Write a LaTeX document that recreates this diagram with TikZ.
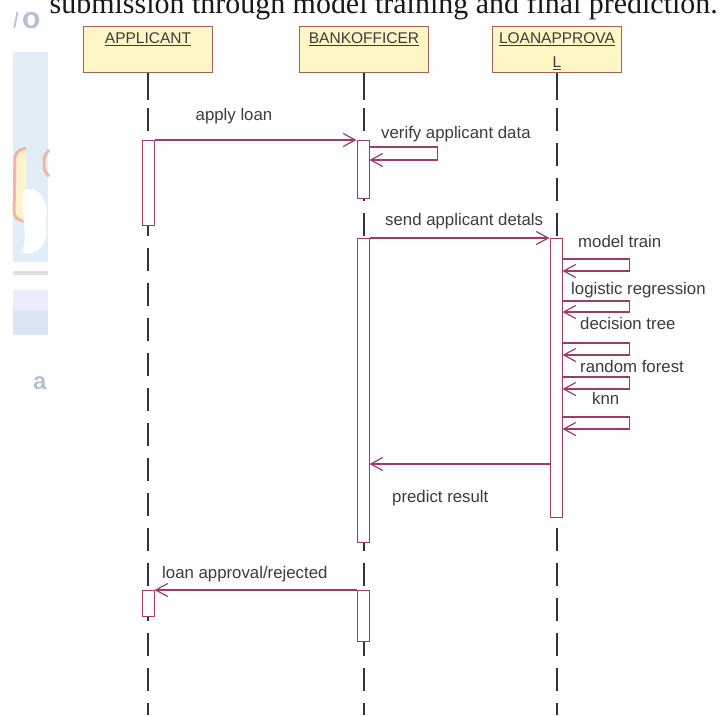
\documentclass[tikz,border=0pt]{standalone}
\usepackage{graphicx}
\usepackage{fontspec}
\setsansfont{Liberation Sans}
\newfontfamily\capfont{Liberation Serif}
\usetikzlibrary{arrows.meta}
\definecolor{msgc}{HTML}{9E3B6B}
\definecolor{boxb}{HTML}{A0605A}
\definecolor{boxf}{HTML}{FFF6C6}
\definecolor{txtc}{HTML}{3C3C3C}
\definecolor{wmtext}{HTML}{B4C0DA}
\definecolor{wmblue}{HTML}{E2EEF7}
\definecolor{wmband}{HTML}{E9EDF9}
\definecolor{wmband2}{HTML}{DCE5F2}
\definecolor{wmorange}{HTML}{F4B4A4}
\definecolor{wmyellow}{HTML}{FDF4CC}
\begin{document}
\begin{tikzpicture}[x=1pt,y=-1pt,
  head/.style={draw=boxb, fill=boxf, line width=1.3pt, minimum width=129pt, minimum height=46pt, inner sep=0pt, anchor=north},
  htxt/.style={font=\sffamily\fontsize{15.5}{18}\selectfont, text=txtc, inner sep=0pt, anchor=base},
  life/.style={line width=1.3pt, draw=black!80,
    dash pattern=on 27pt off 8pt on 23pt off 12pt on 23pt off 12pt on 23pt off 12pt on 23pt off 12pt on 23pt off 12pt on 23pt off 12pt on 23pt off 12pt on 23pt off 12pt on 23pt off 12pt on 23pt off 12pt on 23pt off 12pt on 23pt off 12pt on 23pt off 12pt on 23pt off 12pt on 23pt off 12pt on 23pt off 12pt on 23pt off 12pt on 23pt off 12pt},
  act/.style={draw=msgc, fill=white, line width=1pt, minimum width=12pt, inner sep=0pt, anchor=north},
  msg/.style={draw=msgc, line width=1.2pt, -{Straight Barb[length=12pt,width=13pt]}},
  lbl/.style={font=\sffamily\fontsize{16.8}{20}\selectfont, text=txtc, inner sep=0pt, anchor=base west},
  wmletter/.style={font=\sffamily\bfseries\fontsize{24}{24}\selectfont, text=wmtext, inner sep=0pt, anchor=base west}
]
\useasboundingbox (0,0) rectangle (722,715);
\clip (0,0) rectangle (722,715);
\fill[white] (0,0) rectangle (722,715);

% faint background remnants on the left
\fill[wmblue] (13,52) rectangle (48,262);
\filldraw[draw=wmorange, fill=wmyellow, line width=3pt, rounded corners=6pt] (26,148) -- (15,152) -- (14,218) -- (26,222);
\draw[wmorange, line width=3pt, rounded corners=4pt] (49,150) -- (44,156) -- (44,171) -- (49,176);
\fill[white] (24,190) .. controls (40,184) and (50,204) .. (46,224) .. controls (50,242) and (36,258) .. (22,252) .. controls (30,234) and (18,210) .. (24,190) -- cycle;
\fill[black!12] (13,271) rectangle (48,275);
\fill[wmband] (13,290) rectangle (48,310);
\fill[wmband2] (13,310) rectangle (48,335);
\node[wmletter] (wmlo) at (13,28) {{\mdseries\itshape\fontsize{22}{22}\selectfont l}\hspace{4pt}{\fontsize{30}{30}\selectfont o}};
\node[wmletter] (wma) at (33,389) {a};

% caption (cut at the top, as in the reference)
\node[anchor=base east, inner sep=0pt, text=black!90] (cap) at (718,13.5)
  {\resizebox{668pt}{!}{\capfont submission through model training and final prediction.}};

% header boxes
\node[head] (hA) at (148,26) {};
\node[head] (hB) at (364,26) {};
\node[head] (hL) at (557,26) {};
\node[htxt] (tA) at (148,43.5) {\underline{APPLICANT}};
\node[htxt] (tB) at (364,43.5) {\underline{BANKOFFICER}};
\node[htxt] (tL) at (557,43.5) {\underline{LOANAPPROVA}};
\node[htxt] (tL2) at (557,67.5) {\underline{L}};

% lifelines
\coordinate (eA) at (148,715);
\coordinate (eB) at (364,715);
\coordinate (eL) at (557,715);
\draw[life] (hA.south) -- (eA);
\draw[life] (hB.south) -- (eB);
\draw[life] (hL.south) -- (eL);

% activation bars
\node[act, minimum height=85pt] (A1) at (148,140) {};
\node[act, minimum height=58pt] (B1) at (363,140) {};
\node[act, minimum height=304pt] (B2) at (363,238) {};
\node[act, minimum height=279pt] (L1) at (556,238) {};
\node[act, minimum height=26pt] (A2) at (148,590) {};
\node[act, minimum height=51pt] (B3) at (363,590) {};

% message rows
\coordinate (rv1) at (0,147);
\coordinate (rv2) at (0,160);
\coordinate (rm1) at (0,259);
\coordinate (rm2) at (0,271);
\coordinate (rl1) at (0,301);
\coordinate (rl2) at (0,312);
\coordinate (rd1) at (0,343);
\coordinate (rd2) at (0,355);
\coordinate (rr1) at (0,377);
\coordinate (rr2) at (0,389);
\coordinate (rk1) at (0,417);
\coordinate (rk2) at (0,429);
\coordinate (rp) at (0,464);

% messages
\draw[msg] (A1.north east) -- (B1.north west);
\draw[msg] (B1.east |- rv1) -- ++(68,0) -- ++(0,13) -- (B1.east |- rv2);
\draw[msg] (B2.north east) -- (L1.north west);
\draw[msg] (L1.east |- rm1) -- ++(67,0) -- ++(0,12) -- (L1.east |- rm2);
\draw[msg] (L1.east |- rl1) -- ++(67,0) -- ++(0,11) -- (L1.east |- rl2);
\draw[msg] (L1.east |- rd1) -- ++(67,0) -- ++(0,12) -- (L1.east |- rd2);
\draw[msg] (L1.east |- rr1) -- ++(67,0) -- ++(0,12) -- (L1.east |- rr2);
\draw[msg] (L1.east |- rk1) -- ++(67,0) -- ++(0,12) -- (L1.east |- rk2);
\draw[msg] (L1.west |- rp) -- (B2.east |- rp);
\draw[msg] (B3.north west) -- (A2.north east);

% labels
\node[lbl, anchor=base] (l1) at (234,120) {apply loan};
\node[lbl] (l2) at (381,138) {verify applicant data};
\node[lbl] (l3) at (385,225) {send applicant detals};
\node[lbl] (l4) at (578,247) {model train};
\node[lbl] (l5) at (571,294) {logistic regression};
\node[lbl] (l6) at (580,329) {decision tree};
\node[lbl] (l7) at (580,372) {random forest};
\node[lbl] (l8) at (592,404) {knn};
\node[lbl] (l9) at (392,502) {predict result};
\node[lbl] (l10) at (162,578) {loan approval/rejected};
\end{tikzpicture}
\end{document}
